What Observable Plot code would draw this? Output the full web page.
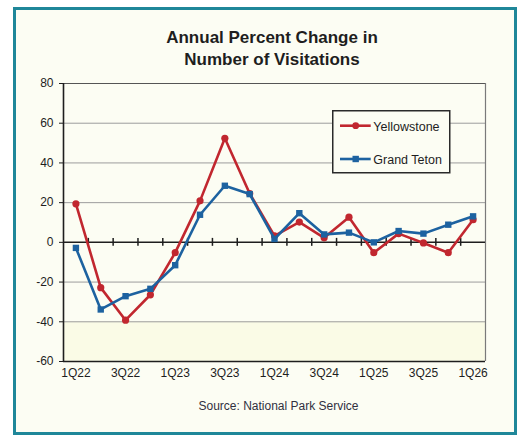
<!DOCTYPE html>
<html>
<head>
<meta charset="utf-8">
<script src="https://cdn.jsdelivr.net/npm/d3@7"></script>
<script src="https://cdn.jsdelivr.net/npm/@observablehq/plot@0.6"></script>
<style>
  html, body { margin: 0; padding: 0; background: #ffffff; }
  #page { position: relative; width: 518px; height: 437px; overflow: hidden; font-family: Arial, "Liberation Sans", sans-serif; }
  #frame { position: absolute; left: 13px; top: 7px; width: 498px; height: 422px; border: 3px solid #1f8799; background: #fcfdf3; }
  #chart { position: absolute; left: 0; top: 0; }
  .title { position: absolute; left: 272px; transform: translateX(-50%); white-space: nowrap; font-weight: bold; font-size: 17px; line-height: 22px; color: #1e1e1e; }
  #source { position: absolute; left: 278.5px; top: 399px; transform: translateX(-50%); white-space: nowrap; font-size: 12px; line-height: 14px; color: #30303f; }
  #legend { position: absolute; left: 332px; top: 110px; }
</style>
</head>
<body>
<div id="page">
  <div id="frame"></div>
  <div id="chart"></div>
  <div class="title" style="top:27px">Annual Percent Change in</div>
  <div class="title" style="top:49px">Number of Visitations</div>
  <div id="source">Source: National Park Service</div>
  <div id="legend"></div>
</div>
<script>
const quarters = ["1Q22","2Q22","3Q22","4Q22","1Q23","2Q23","3Q23","4Q23","1Q24","2Q24","3Q24","4Q24","1Q25","2Q25","3Q25","4Q25","1Q26"];
const yellowstone = [19.4, -22.8, -39.2, -26.4, -5.2, 20.9, 52.4, 24.6, 3.3, 10.2, 2.3, 12.7, -5.2, 4.4, -0.3, -5.2, 11.4];
const grandTeton = [-2.8, -33.8, -27.1, -23.4, -11.5, 13.9, 28.5, 24.3, 1.7, 14.7, 4.0, 4.9, 0.0, 5.7, 4.4, 8.9, 13.1];
const yTicks = [-60, -40, -20, 0, 20, 40, 60, 80];
const gridLines = [-40, -20, 20, 40, 60];
const seriesNames = ["Yellowstone", "Grand Teton"];
const colors = {"Yellowstone": "#c1272f", "Grand Teton": "#1d62a0"};

const idx = quarters.map((q, i) => i);
const rowsY = idx.map(i => ({i, q: quarters[i], v: yellowstone[i]}));
const rowsG = idx.map(i => ({i, q: quarters[i], v: grandTeton[i]}));
const boundaries = d3.range(0.5, quarters.length - 1, 1);
const xMin = -0.5, xMax = quarters.length - 0.5;
const yMin = yTicks[0], yMax = yTicks[yTicks.length - 1];

const chart = Plot.plot({
  width: 518,
  height: 437,
  marginLeft: 63,
  marginRight: 33,
  marginTop: 83,
  marginBottom: 76,
  style: {background: "transparent", fontFamily: "Arial, 'Liberation Sans', sans-serif", fontSize: "12px", color: "#1e1e1e"},
  x: {type: "linear", domain: [xMin, xMax]},
  y: {domain: [yMin, yMax]},
  marks: [
    Plot.rect([0], {x1: xMin, x2: xMax, y1: yMin, y2: -40, fill: "#fafbe6"}),
    Plot.ruleY(gridLines, {stroke: "#9c9c9c", strokeWidth: 1}),
    Plot.ruleY([yMax], {stroke: "#555555", strokeWidth: 1.2}),
    Plot.ruleX([xMax], {stroke: "#7a7a7a", strokeWidth: 1.2}),
    Plot.ruleY([0], {stroke: "#1e1e1e", strokeWidth: 1.5}),
    Plot.ruleX(boundaries, {y1: -2, y2: 2, stroke: "#1e1e1e", strokeWidth: 1.5}),
    Plot.line(rowsY, {x: "i", y: "v", stroke: colors["Yellowstone"], strokeWidth: 2.6}),
    Plot.dot(rowsY, {x: "i", y: "v", r: 3.6, fill: colors["Yellowstone"], stroke: "none"}),
    Plot.line(rowsG, {x: "i", y: "v", stroke: colors["Grand Teton"], strokeWidth: 2.6}),
    Plot.dot(rowsG, {x: "i", y: "v", r: 3.6, symbol: "square", fill: colors["Grand Teton"], stroke: "none"}),
    Plot.ruleY([yMin], {stroke: "#1e1e1e", strokeWidth: 1.6}),
    Plot.ruleX([xMin], {stroke: "#1e1e1e", strokeWidth: 1.6}),
    Plot.axisY({ticks: yTicks, tickFormat: d => String(d), tickSize: 4, tickPadding: 6, label: null, stroke: "#1e1e1e"}),
    Plot.axisX({ticks: idx.filter(i => i % 2 === 0), tickFormat: i => quarters[i], tickSize: 0, tickPadding: 7, label: null})
  ]
});
document.getElementById("chart").appendChild(chart);

// Legend
const lg = d3.select("#legend").append("svg").attr("width", 120).attr("height", 65);
lg.append("rect").attr("x", 0.75).attr("y", 0.75).attr("width", 117).attr("height", 62)
  .attr("fill", "#fcfdf3").attr("stroke", "#2a2a2a").attr("stroke-width", 1.5);
seriesNames.forEach((name, k) => {
  const ly = k === 0 ? 15.7 : 49;
  const g = lg.append("g");
  g.append("line").attr("x1", 8).attr("x2", 38.7).attr("y1", ly).attr("y2", ly)
    .attr("stroke", colors[name]).attr("stroke-width", 2.6);
  if (k === 0) g.append("circle").attr("cx", 23.7).attr("cy", ly).attr("r", 3.4).attr("fill", colors[name]);
  else g.append("rect").attr("x", 20.5).attr("y", ly - 3.2).attr("width", 6.4).attr("height", 6.4).attr("fill", colors[name]);
  g.append("text").attr("x", 41.3).attr("y", ly + 4.8).attr("font-size", "12.5px")
    .attr("font-family", "Arial, 'Liberation Sans', sans-serif").attr("fill", "#1e1e1e").text(name);
});
</script>
</body>
</html>
